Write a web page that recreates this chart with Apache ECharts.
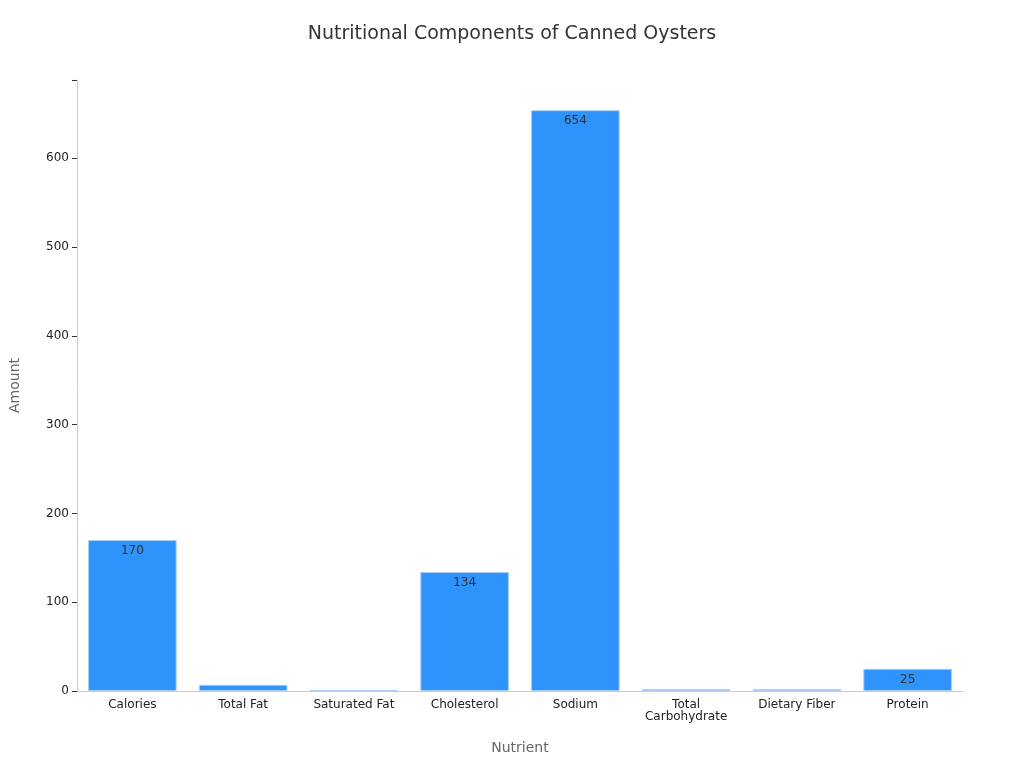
<!DOCTYPE html>
<html><head><meta charset="utf-8">
<script src="https://cdn.jsdelivr.net/npm/echarts@6/dist/echarts.min.js"></script>
<style>html,body{margin:0;padding:0;background:#fff}#c{width:1024px;height:768px}</style>
</head><body><div id="c"></div>
<script>
const categories = ["Calories","Total Fat","Saturated Fat","Cholesterol","Sodium","Total\nCarbohydrate","Dietary Fiber","Protein"];
const values = [170, 7, 1, 134, 654, 2, 2, 25];
const chart = echarts.init(document.getElementById('c'));
chart.setOption({
  title:{text:"Nutritional Components of Canned Oysters",left:'center',top:20,textStyle:{fontFamily:'DejaVu Sans',fontSize:19,fontWeight:'normal',color:'#333'}},
  grid:{left:68,right:61,top:80,bottom:77},
  xAxis:{type:'category',data:categories,name:'Nutrient',nameLocation:'middle',nameGap:50,
    nameTextStyle:{fontFamily:'DejaVu Sans',fontSize:14,color:'#666'},
    axisLine:{lineStyle:{color:'#ccc'}},axisTick:{alignWithLabel:true,lineStyle:{color:'#333'}},
    axisLabel:{fontFamily:'DejaVu Sans',fontSize:12,color:'#222',interval:0}},
  yAxis:{type:'value',min:0,max:688,interval:100,name:'Amount',nameLocation:'middle',nameGap:55,
    nameTextStyle:{fontFamily:'DejaVu Sans',fontSize:14,color:'#666'},
    axisLine:{show:true,lineStyle:{color:'#ccc'}},axisTick:{show:true,lineStyle:{color:'#333'}},splitLine:{show:false},
    axisLabel:{fontFamily:'DejaVu Sans',fontSize:12,color:'#222',formatter:v=>v%100===0?v:''}},
  series:[{type:'bar',data:values,barWidth:'80%',
    itemStyle:{color:'#2e93fa',borderColor:'#a9cdf5',borderWidth:1},
    label:{show:true,position:'insideTop',fontFamily:'DejaVu Sans',fontSize:12,color:'#333',
      formatter:p=>p.value>=10?p.value:''}}]
});
</script></body></html>
